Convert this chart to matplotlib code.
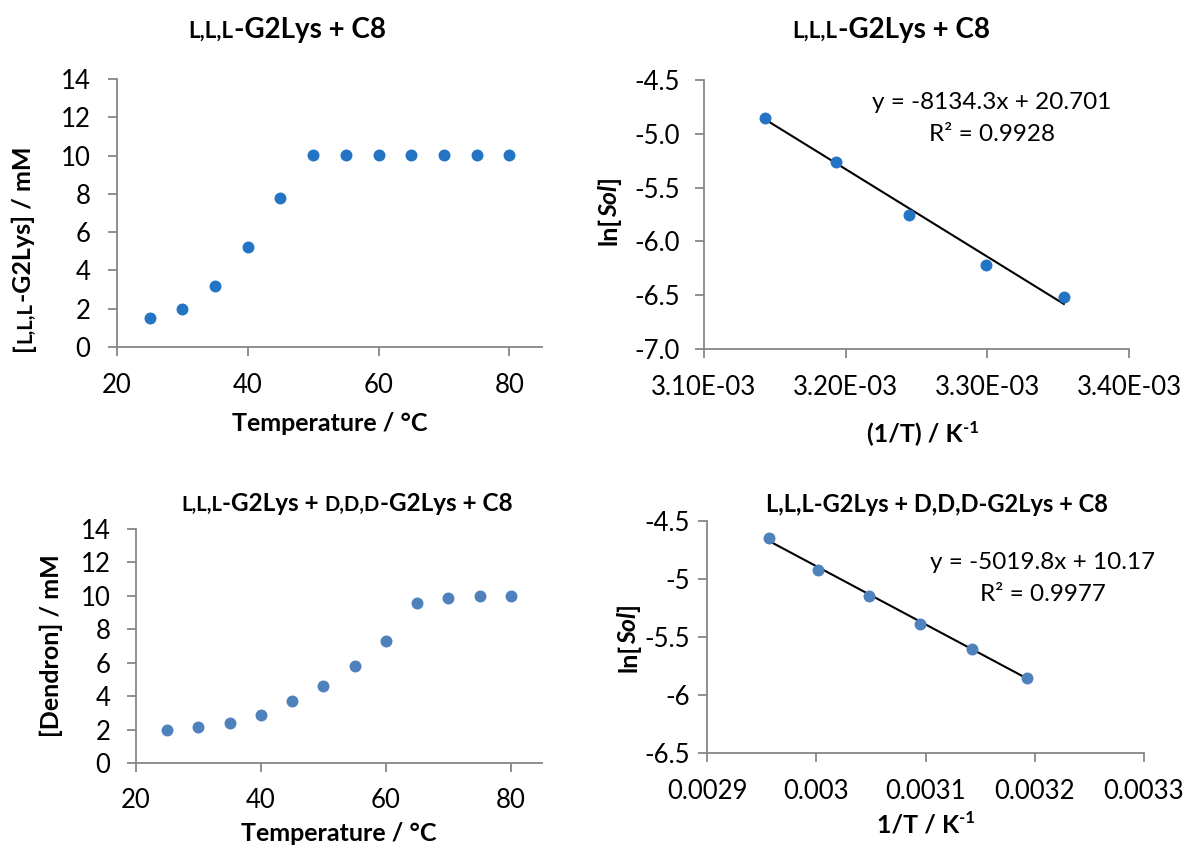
import numpy as np
import matplotlib
matplotlib.use("Agg")
import matplotlib.pyplot as plt
from matplotlib.transforms import IdentityTransform
from matplotlib.ticker import FixedLocator, FixedFormatter

plt.rcParams['font.family'] = ['Lato', 'DejaVu Sans']
plt.rcParams['axes.unicode_minus'] = False

# ---------------- data ----------------
temp_a = [25, 30, 35, 40, 45, 50, 55, 60, 65, 70, 75, 80]
conc_a = [1.5, 2.0, 3.2, 5.2, 7.8, 10.05, 10.05, 10.05, 10.05, 10.05, 10.05, 10.05]
invT_a = [0.003143, 0.003193, 0.003245, 0.003299, 0.003354]
lnsol_a = [-4.85, -5.26, -5.75, -6.22, -6.52]
slope_a, icpt_a, r2_a = -8134.3, 20.701, 0.9928

temp_b = [25, 30, 35, 40, 45, 50, 55, 60, 65, 70, 75, 80]
conc_b = [1.95, 2.17, 2.41, 2.87, 3.68, 4.58, 5.82, 7.27, 9.58, 9.86, 10.02, 10.02]
invT_b = [0.002957, 0.003002, 0.003048, 0.003095, 0.003143, 0.003193]
lnsol_b = [-4.648, -4.924, -5.150, -5.388, -5.604, -5.855]
slope_b, icpt_b, r2_b = -5019.8, 10.17, 0.9977

xt_a2 = [0.0031, 0.0032, 0.0033, 0.0034]
xt_a2_lab = ['3.10E-03', '3.20E-03', '3.30E-03', '3.40E-03']
yt_a2 = [-7.0, -6.5, -6.0, -5.5, -5.0, -4.5]
yt_a2_lab = ['-7.0', '-6.5', '-6.0', '-5.5', '-5.0', '-4.5']
xt_b2 = [0.0029, 0.0030, 0.0031, 0.0032, 0.0033]
xt_b2_lab = ['0.0029', '0.003', '0.0031', '0.0032', '0.0033']
yt_b2 = [-6.5, -6.0, -5.5, -5.0, -4.5]
yt_b2_lab = ['-6.5', '-6', '-5.5', '-5', '-4.5']

# ---------------- figure ----------------
W, H = 1184, 846
fig = plt.figure(figsize=(W / 100, H / 100), dpi=100)
renderer = fig.canvas.get_renderer()

C_TOP = '#2474C6'
C_BOT = '#4F81BD'
AX_C = '#868686'
TICK_FS = 18.5


def px_axes(l, r, t, b):
    return fig.add_axes([l / W, 1 - b / H, (r - l) / W, (b - t) / H])


def style(ax, xpad, ypad):
    for s in ['top', 'right']:
        ax.spines[s].set_visible(False)
    for s in ['left', 'bottom']:
        ax.spines[s].set_color(AX_C)
        ax.spines[s].set_linewidth(1.3)
    ax.tick_params(direction='out', length=6.5, width=1.3, color=AX_C,
                   labelsize=TICK_FS, labelcolor='black')
    ax.tick_params(axis='x', pad=xpad)
    ax.tick_params(axis='y', pad=ypad)


def _w(s, kw):
    t = fig.text(0, 0, s, transform=IdentityTransform(), **kw)
    w = t.get_window_extent(renderer).width
    t.remove()
    return w


def adv(s, kw):
    return _w('|' + s + '|', kw) - _w('||', kw)


def rich(cx, cy, pieces, rotation=0, main_size=16):
    """pieces: list of (text, kwargs, raise_px, extra_advance_px). cx, cy in px from top-left."""
    advs = [adv(p[0], p[1]) + (p[3] if len(p) > 3 else 0) for p in pieces]
    total = sum(advs)
    cap = main_size * 100 / 72 * 0.72
    off = -total / 2
    for p, a in zip(pieces, advs):
        s, kw, dy = p[0], p[1], p[2]
        if rotation == 0:
            x = cx + off
            y = H - (cy + cap / 2) + dy
        else:
            x = cx + cap / 2 - dy
            y = H - cy + off
        fig.text(x, y, s, transform=IdentityTransform(), ha='left', va='baseline',
                 rotation=rotation, rotation_mode='anchor', **kw)
        off += a


def B(size, style='normal'):
    return dict(fontsize=size, fontweight='bold', fontstyle=style)


def R(size):
    return dict(fontsize=size, fontweight='normal')


LAB = 18      # axis label size
TS = 20       # top titles
SC = 16       # small caps in top titles
TS2 = 17.5    # bottom-left title
SC2 = 14.5
TS3 = 17      # bottom-right title
EQ = 17.5     # equation text

# ---------------- panel 1 ----------------
ax1 = px_axes(117, 542, 79, 347)
ax1.plot(temp_a, conc_a, 'o', color=C_TOP, markersize=8.6, markeredgewidth=0, zorder=3)
ax1.set_xlim(20, 85)
ax1.set_ylim(0, 14)
ax1.xaxis.set_major_locator(FixedLocator([20, 40, 60, 80]))
ax1.yaxis.set_major_locator(FixedLocator(list(range(0, 15, 2))))
style(ax1, 12.5, 12.5)

rich(287, 28, [('L,L,L', B(SC), 0), ('-G2Lys + C8', B(TS), 0)], main_size=TS)
rich(22, 249, [('[', B(LAB), 0), ('L,L,L', B(14.5), 0), ('-G2Lys] / mM', B(LAB), 0)],
     rotation=90, main_size=LAB)
rich(330, 422, [('Temperature / °C', B(LAB), 0)], main_size=LAB)

# ---------------- panel 2 ----------------
ax2 = px_axes(704, 1129, 80, 349)
ax2.plot(invT_a, lnsol_a, 'o', color=C_TOP, markersize=8.6, markeredgewidth=0, zorder=3)
xf = np.array([min(invT_a), max(invT_a)])
ax2.plot(xf, slope_a * xf + icpt_a, color='black', lw=1.5, zorder=2)
ax2.set_xlim(0.0031, 0.0034)
ax2.set_ylim(-7.0, -4.5)
ax2.xaxis.set_major_locator(FixedLocator(xt_a2))
ax2.xaxis.set_major_formatter(FixedFormatter(xt_a2_lab))
ax2.yaxis.set_major_locator(FixedLocator(yt_a2))
ax2.yaxis.set_major_formatter(FixedFormatter(yt_a2_lab))
style(ax2, 12, 11)

rich(891, 28, [('L,L,L', B(SC), 0), ('-G2Lys + C8', B(TS), 0)], main_size=TS)
rich(608, 211, [('ln[', B(LAB), 0), ('Sol', B(LAB, 'italic'), 0), (']', B(LAB), 0)],
     rotation=90, main_size=LAB)
rich(923, 433, [('(1/T) / K', B(LAB), 0), ('-1', B(12), 9)], main_size=LAB)
rich(992, 100, [('y = %.1fx + %.3f' % (slope_a, icpt_a), R(EQ), 0)], main_size=EQ)
rich(992, 132, [('R² = %.4f' % r2_a, R(EQ), 0)], main_size=EQ)

# ---------------- panel 3 ----------------
ax3 = px_axes(136, 542, 529, 763)
ax3.plot(temp_b, conc_b, 'o', color=C_BOT, markersize=8.6, markeredgewidth=0, zorder=3)
ax3.set_xlim(20, 85)
ax3.set_ylim(0, 14)
ax3.xaxis.set_major_locator(FixedLocator([20, 40, 60, 80]))
ax3.yaxis.set_major_locator(FixedLocator(list(range(0, 15, 2))))
style(ax3, 11.5, 12)

rich(347, 502, [('L,L,L', B(SC2), 0), ('-G2Lys + ', B(TS2), 0), ('D,D,D', B(SC2), 0),
                ('-G2Lys + C8', B(TS2), 0)], main_size=TS2)
rich(50, 646, [('[Dendron] / mM', B(LAB), 0)], rotation=90, main_size=LAB)
rich(339, 832, [('Temperature / °C', B(LAB), 0)], main_size=LAB)

# ---------------- panel 4 ----------------
ax4 = px_axes(707, 1144, 521, 753)
ax4.plot(invT_b, lnsol_b, 'o', color=C_BOT, markersize=8.6, markeredgewidth=0, zorder=3)
xf = np.array([min(invT_b), max(invT_b)])
ax4.plot(xf, slope_b * xf + icpt_b, color='black', lw=1.5, zorder=2)
ax4.set_xlim(0.0029, 0.0033)
ax4.set_ylim(-6.5, -4.5)
ax4.xaxis.set_major_locator(FixedLocator(xt_b2))
ax4.xaxis.set_major_formatter(FixedFormatter(xt_b2_lab))
ax4.yaxis.set_major_locator(FixedLocator(yt_b2))
ax4.yaxis.set_major_formatter(FixedFormatter(yt_b2_lab))
style(ax4, 12, 6)

rich(937, 503, [('L,L,L-G2Lys + D,D,D-G2Lys + C8', B(TS3), 0)], main_size=TS3)
rich(627, 638, [('ln[', B(LAB), 0), ('Sol', B(LAB, 'italic'), 0), (']', B(LAB), 0)],
     rotation=90, main_size=LAB)
rich(926, 823, [('1/T / K', B(LAB), 0), ('-1', B(12), 9)], main_size=LAB)
rich(1043, 560, [('y = %.1fx + %.2f' % (slope_b, icpt_b), R(EQ), 0)], main_size=EQ)
rich(1043, 592, [('R² = %.4f' % r2_b, R(EQ), 0)], main_size=EQ)

fig.savefig('out.png', dpi=100, facecolor='white')
